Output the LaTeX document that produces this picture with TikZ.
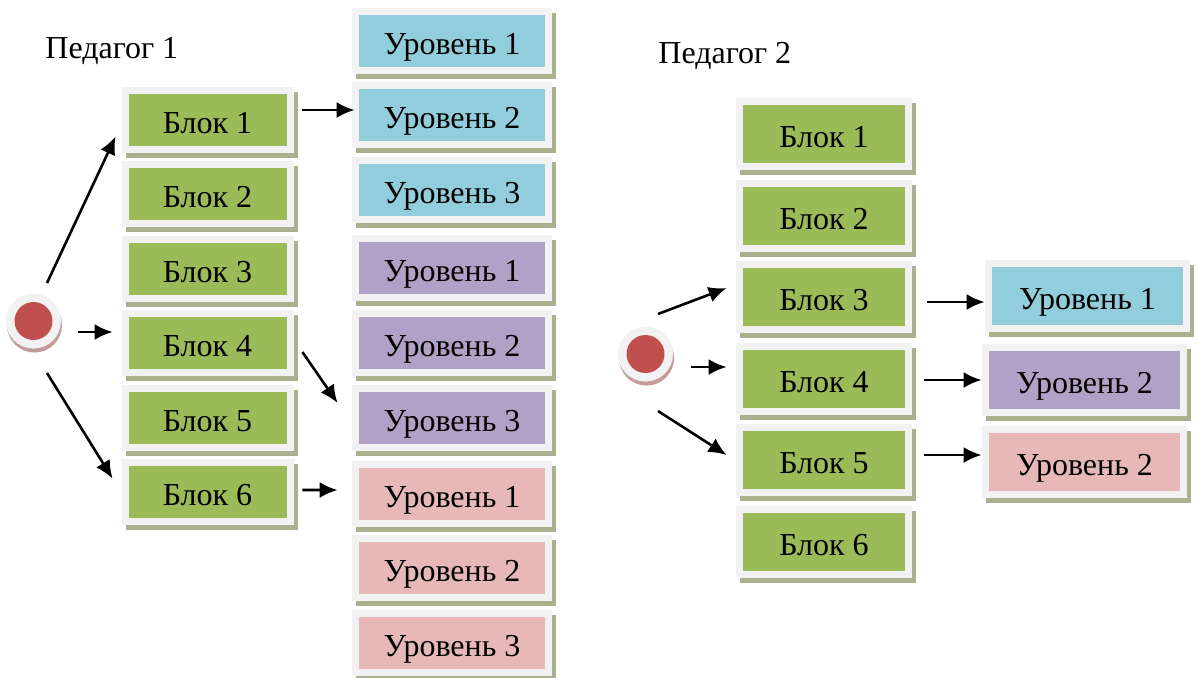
\documentclass[tikz,border=0pt]{standalone}
\usepackage{fontspec}
\setmainfont{Liberation Serif}
\usetikzlibrary{arrows.meta,positioning,calc}

\definecolor{blokgreen}{RGB}{155,187,89}
\definecolor{lvcyan}{RGB}{146,205,220}
\definecolor{lvpurple}{RGB}{178,161,199}
\definecolor{lvpink}{RGB}{230,185,184}
\definecolor{frame}{RGB}{242,242,242}
\definecolor{shade}{RGB}{169,177,143}
\definecolor{dotred}{RGB}{192,80,77}
\definecolor{dotshade}{RGB}{196,154,154}

\begin{document}
\begin{tikzpicture}[x=0.5pt, y=-0.5pt, line join=miter,
  every node/.style={font=\fontsize{16pt}{19pt}\selectfont},
  cell/.style={fill=#1, inner sep=0pt, text height=13.5pt, text depth=0pt,
    preaction={fill=shade, draw=shade, line width=7pt, transform canvas={shift={(2pt,-2.5pt)}}},
    preaction={draw=frame, line width=7pt}},
  blok/.style={cell=blokgreen, minimum width=79pt, minimum height=26pt},
  uroven/.style={cell=#1, minimum width=93pt, minimum height=26pt},
  dot/.style={circle, fill=dotred, minimum size=19pt, inner sep=0pt,
    preaction={fill=dotshade, draw=dotshade, line width=8.5pt, transform canvas={shift={(0.5pt,-2pt)}}},
    preaction={draw=frame, line width=8.5pt}},
  arr/.style={-{Latex[length=9pt,width=8pt]}, line width=1.3pt}]
\useasboundingbox (0,0) rectangle (1198,677);

% Педагог 1
\node[anchor=base west, inner sep=0pt] (t1) at (45,58) {Педагог 1};
\node[dot] (p1) at (33.5,321) {};
\foreach \i in {1,...,6}
  \node[blok] (b\i) at (207.5,{120+74.4*(\i-1)}) {Блок \i};
\foreach \y/\c/\n [count=\i] in {41/lvcyan/1, 115/lvcyan/2, 190/lvcyan/3,
    268/lvpurple/1, 343/lvpurple/2, 418/lvpurple/3,
    494/lvpink/1, 568/lvpink/2, 643/lvpink/3}
  \node[uroven=\c] (l\i) at (452,\y) {Уровень \n};

\draw[arr] ($(p1)+(13.5,-38)$) -- ($(b1.south west)+(-12.5,-10)$);
\draw[arr] ($(p1)+(44.5,11)$) -- ($(b4.west)+(-15.5,-11.2)$);
\draw[arr] ($(p1)+(13.5,52)$) -- ($(b6.north west)+(-15.5,13)$);
\draw[arr] ($(b1.east)+(15.5,-10)$) -- ($(l2.west)+(-4,-5)$);
\draw[arr] ($(b4.east)+(15.5,8.8)$) -- ($(l6.west)+(-21,-15)$);
\draw[arr] ($(b6.east)+(15.5,-2)$) -- ($(l7.west)+(-21,-4)$);

% Педагог 2
\node[anchor=base west, inner sep=0pt] (t2) at (658,63) {Педагог 2};
\node[dot] (p2) at (645.5,354) {};
\foreach \i in {1,...,6}
  \node[blok, minimum width=81pt, minimum height=29pt] (r\i) at (824,{134+81.6*(\i-1)}) {Блок \i};
\node[uroven=lvcyan, minimum width=95.5pt, minimum height=29pt] (q1) at (1087.5,296) {Уровень 1};
\node[uroven=lvpurple, minimum width=95.5pt, minimum height=29pt] (q2) at (1084.5,380) {Уровень 2};
\node[uroven=lvpink, minimum width=95.5pt, minimum height=29pt] (q3) at (1084.5,462) {Уровень 2};

\draw[arr] ($(p2)+(12.5,-40)$) -- ($(r3.west)+(-16,-9.2)$);
\draw[arr] ($(p2)+(45.5,13)$) -- ($(r4.west)+(-16,-11.8)$);
\draw[arr] ($(p2)+(12.5,57)$) -- ($(r5.west)+(-16,-5.4)$);
\draw[arr] ($(r3.east)+(22,4.8)$) -- ($(q1.west)+(-7,6)$);
\draw[arr] ($(r4.east)+(19,1.2)$) -- ($(q2.west)+(-7,0)$);
\draw[arr] ($(r5.east)+(19,-5.4)$) -- ($(q3.west)+(-7,-7)$);
\end{tikzpicture}
\end{document}
